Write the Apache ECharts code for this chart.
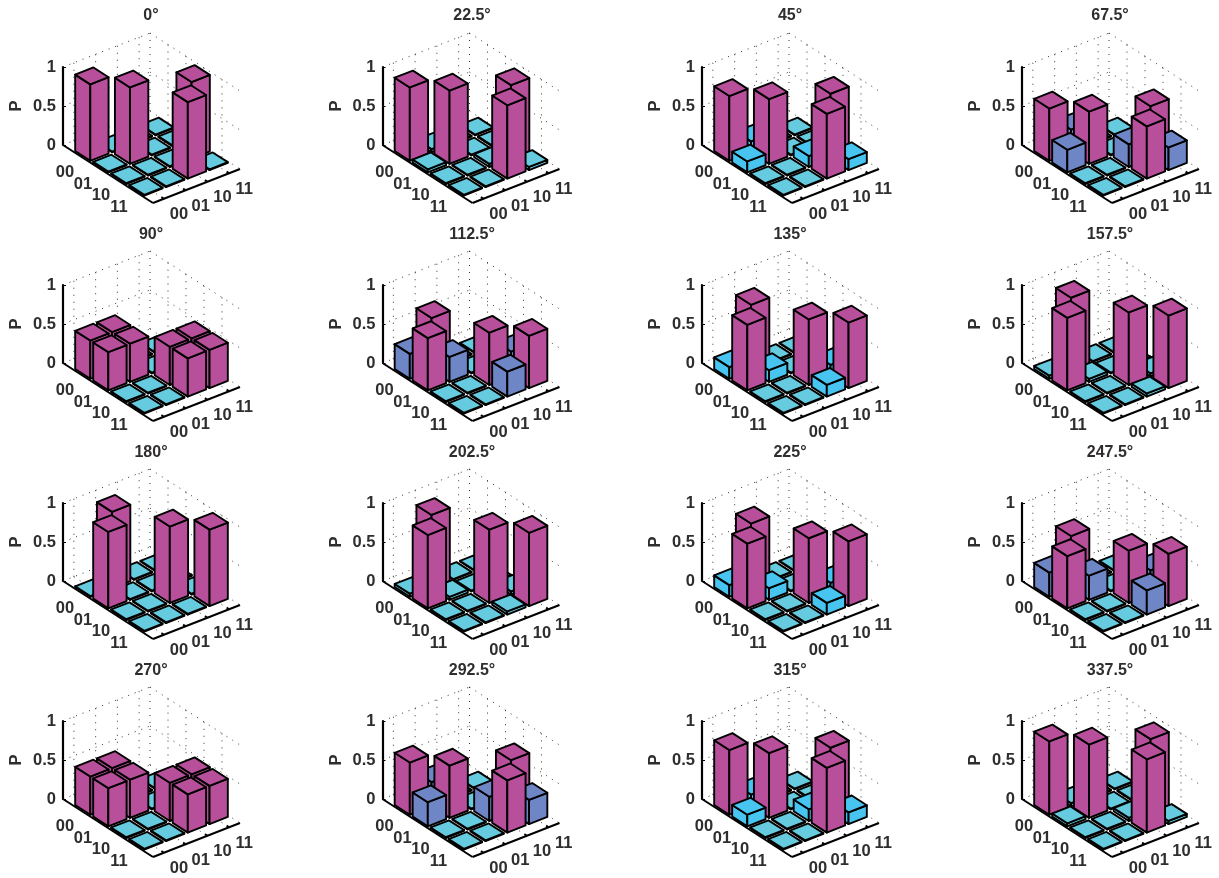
<!DOCTYPE html>
<html>
<head>
<meta charset="utf-8">
<style>
  html, body { margin: 0; padding: 0; background: #fff; }
  #chart { width: 1219px; height: 878px; }
</style>
<script src="https://cdn.jsdelivr.net/npm/echarts@6/dist/echarts.min.js"></script>
</head>
<body>
<div id="chart"></div>
<script>
const ANGLES = ['0°', '22.5°', '45°', '67.5°', '90°', '112.5°', '135°', '157.5°', '180°', '202.5°', '225°', '247.5°', '270°', '292.5°', '315°', '337.5°'];
const BASIS = ['00', '01', '10', '11'];
const Z_TICKS = [0, 0.5, 1];

// cells 00-00, 01-01, 10-11, 11-10
const P_DIRECT = [0.98, 0.94, 0.83, 0.67, 0.49, 0.32, 0.15, 0.04, 0.01, 0.04, 0.15, 0.31, 0.49, 0.67, 0.83, 0.94];
// cells 00-01, 01-00, 10-10, 11-11
const P_CROSSED = [0.01, 0.04, 0.14, 0.29, 0.49, 0.67, 0.84, 0.93, 0.98, 0.94, 0.83, 0.67, 0.49, 0.31, 0.15, 0.04];
const P_EMPTY = 0.01;

const DIRECT_CELLS = [[0, 0], [1, 1], [2, 3], [3, 2]];
const CROSSED_CELLS = [[0, 1], [1, 0], [2, 2], [3, 3]];

const MAGENTA = '#b84f9b';
const TEAL = '#66cbdf';
const CYAN = '#47c4f0';
const BLUE = '#6f86c6';
const DIRECT_COLORS = [MAGENTA, MAGENTA, MAGENTA, MAGENTA, MAGENTA, BLUE, CYAN, TEAL, TEAL, TEAL, CYAN, BLUE, MAGENTA, MAGENTA, MAGENTA, MAGENTA];
const CROSSED_COLORS = [TEAL, TEAL, CYAN, BLUE, MAGENTA, MAGENTA, MAGENTA, MAGENTA, MAGENTA, MAGENTA, MAGENTA, MAGENTA, MAGENTA, BLUE, CYAN, TEAL];

// layout of the panels, px
const COL_X = [63, 382.5, 702, 1022];
const ROW_Y = [67, 285, 503, 721];
const TITLE_X = [151, 472, 790, 1110];
const TITLE_Y = [8, 227, 445, 663];
const PANEL_W = 177;
const PANEL_H = 78;

// oblique view: share of the grid width / height taken by each floor axis
const A_MIN = -1, A_MAX = 4, B_MIN = -0.5, B_MAX = 3.5;
const X_PER_A = 90 / PANEL_W;
const X_PER_B = 87 / PANEL_W;
const Z_PER_A = 58 / PANEL_H;
const Z_PER_B = 34 / PANEL_H;
const HALF_BAR = 0.42;

const FONT = '"Liberation Sans", Arial, sans-serif';
const INK = '#2f2d2e';

function project(api, a, b, z) {
    const fa = (a - A_MIN) / (A_MAX - A_MIN);
    const fb = (b - B_MIN) / (B_MAX - B_MIN);
    return api.coord([fa * X_PER_A + fb * X_PER_B, z - fa * Z_PER_A + fb * Z_PER_B]);
}

function renderBar(params, api) {
    const a = api.value(0), b = api.value(1), p = api.value(2);
    const fill = api.visual('color');
    const pt = (da, db, z) => project(api, a + da * HALF_BAR, b + db * HALF_BAR, z);
    const face = points => ({
        type: 'polygon',
        shape: { points },
        style: { fill, stroke: '#000', lineWidth: 1.9, lineJoin: 'round' },
    });
    return {
        type: 'group',
        children: [
            face([pt(1, -1, 0), pt(-1, -1, 0), pt(-1, -1, p), pt(1, -1, p)]),
            face([pt(1, -1, 0), pt(1, 1, 0), pt(1, 1, p), pt(1, -1, p)]),
            face([pt(-1, -1, p), pt(1, -1, p), pt(1, 1, p), pt(-1, 1, p)]),
        ],
    };
}

function renderSegment(style) {
    return (params, api) => {
        const s = project(api, api.value(0), api.value(1), api.value(2));
        const e = project(api, api.value(3), api.value(4), api.value(5));
        return { type: 'line', shape: { x1: s[0], y1: s[1], x2: e[0], y2: e[1] }, style };
    };
}

function renderTickLabel(dx, dy) {
    return (params, api) => {
        const p = project(api, api.value(0), api.value(1), 0);
        return {
            type: 'text',
            style: {
                text: BASIS[params.dataIndex], x: p[0] + dx, y: p[1] + dy,
                font: 'bold 16.5px ' + FONT, fill: INK, align: 'center', verticalAlign: 'middle',
            },
        };
    };
}

function gridSegments() {
    const out = [];
    BASIS.forEach((_, k) => {
        out.push([A_MIN, k, 0, A_MIN, k, 1]);      // left wall
        out.push([k, B_MAX, 0, k, B_MAX, 1]);      // back wall
        out.push([k, B_MIN, 0, k, B_MAX, 0]);      // floor
        out.push([A_MIN, k, 0, A_MAX, k, 0]);
    });
    Z_TICKS.forEach(z => {
        out.push([A_MIN, B_MIN, z, A_MIN, B_MAX, z]);
        out.push([A_MIN, B_MAX, z, A_MAX, B_MAX, z]);
    });
    out.push([A_MIN, B_MAX, 0, A_MIN, B_MAX, 1]);
    return out;
}

function axisSegments() {
    const out = [[A_MIN, B_MIN, 0, A_MAX, B_MIN, 0], [A_MAX, B_MIN, 0, A_MAX, B_MAX, 0]];
    BASIS.forEach((_, k) => {
        out.push([k, B_MIN, 0, k, B_MIN + 0.14, 0]);
        out.push([A_MAX, k, 0, A_MAX - 0.14, k, 0]);
    });
    return out;
}

function barCells(i) {
    const cells = [];
    for (let a = 0; a < 4; a++) {
        for (let b = 3; b >= 0; b--) {
            const d = DIRECT_CELLS.findIndex(c => c[0] === a && c[1] === b);
            const x = CROSSED_CELLS.findIndex(c => c[0] === a && c[1] === b);
            if (d >= 0) cells.push({ value: [a, b, P_DIRECT[i]], itemStyle: { color: DIRECT_COLORS[i] } });
            else if (x >= 0) cells.push({ value: [a, b, P_CROSSED[i]], itemStyle: { color: CROSSED_COLORS[i] } });
            else cells.push({ value: [a, b, P_EMPTY], itemStyle: { color: TEAL } });
        }
    }
    return cells;
}

const grids = [], xAxes = [], yAxes = [], titles = [], series = [];

ANGLES.forEach((angle, i) => {
    const col = i % 4, row = Math.floor(i / 4);
    grids.push({ left: COL_X[col], top: ROW_Y[row], width: PANEL_W, height: PANEL_H });
    xAxes.push({ gridIndex: i, type: 'value', min: 0, max: 1, show: false });
    yAxes.push({
        gridIndex: i, type: 'value', min: 0, max: 1, interval: 0.5,
        name: 'P', nameLocation: 'middle', nameRotate: 90, nameGap: 38,
        nameTextStyle: { fontFamily: FONT, fontWeight: 'bold', fontSize: 16.5, color: INK },
        axisLine: { show: true, lineStyle: { color: '#000', width: 2.2 } },
        axisTick: { show: true, inside: true, length: 3, lineStyle: { color: '#000', width: 1 } },
        axisLabel: { fontFamily: FONT, fontWeight: 'bold', fontSize: 16.5, color: INK, margin: 7, padding: [0, 0, 5, 0] },
        splitLine: { show: false },
    });
    titles.push({
        text: angle, left: TITLE_X[col], top: TITLE_Y[row], textAlign: 'center', padding: 0,
        textStyle: { fontFamily: FONT, fontWeight: 'bold', fontSize: 16, color: INK },
    });
    const common = { type: 'custom', coordinateSystem: 'cartesian2d', xAxisIndex: i, yAxisIndex: i, silent: true, animation: false };
    series.push({
        ...common, z: 1, data: gridSegments(),
        renderItem: renderSegment({ stroke: '#333', lineWidth: 1, lineDash: [1, 6] }),
    });
    series.push({
        ...common, z: 2, data: axisSegments(),
        renderItem: renderSegment({ stroke: '#000', lineWidth: 2 }),
    });
    series.push({ ...common, z: 3, data: barCells(i), renderItem: renderBar });
    series.push({
        ...common, z: 4, data: BASIS.map((_, k) => [k, B_MIN]),
        renderItem: renderTickLabel(-16, 16),
    });
    series.push({
        ...common, z: 4, data: BASIS.map((_, k) => [A_MAX, k]),
        renderItem: renderTickLabel(15, 16),
    });
});

const chart = echarts.init(document.getElementById('chart'), null, { renderer: 'canvas' });
chart.setOption({
    animation: false,
    backgroundColor: '#fff',
    title: titles,
    grid: grids,
    xAxis: xAxes,
    yAxis: yAxes,
    series,
});
</script>
</body>
</html>
